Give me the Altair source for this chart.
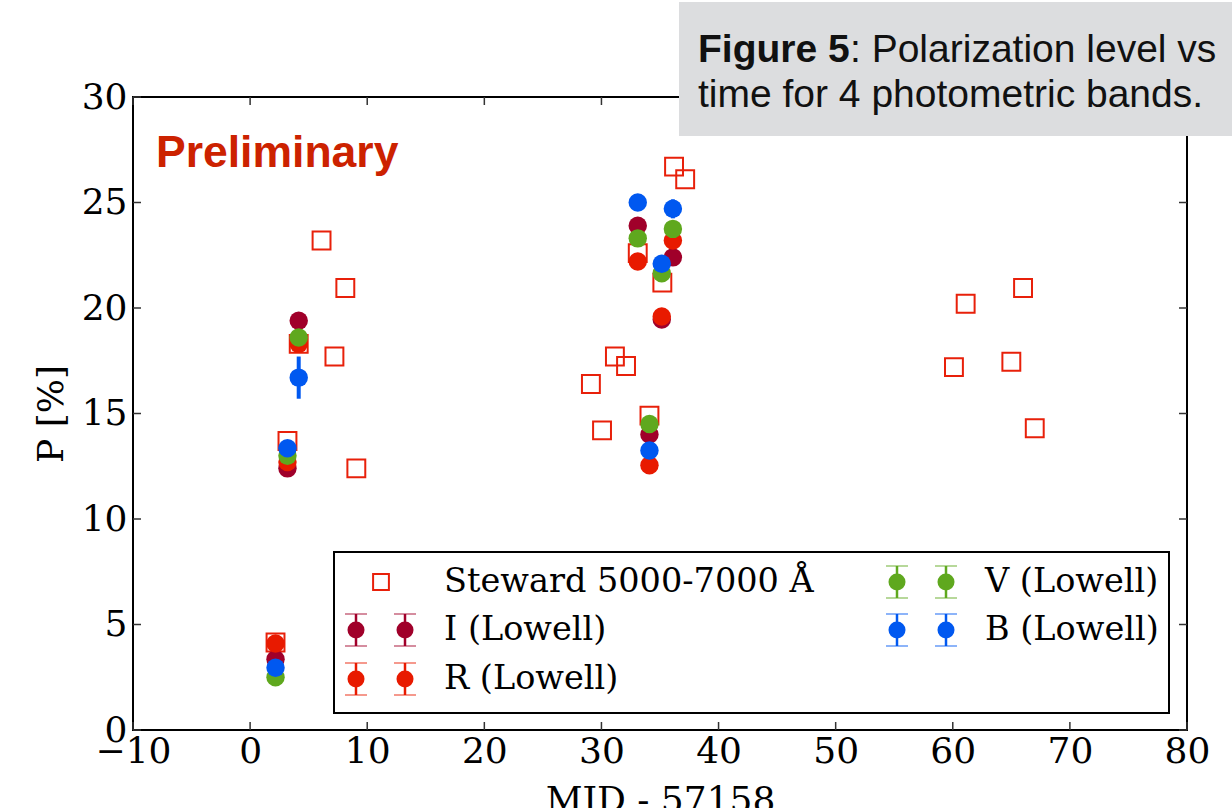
import altair as alt
import pandas as pd

# ---- Steward spectropolarimetry (5000-7000 Å) ----
steward_mjd = [2.17, 3.19, 4.15, 6.1, 7.2, 8.13, 9.07,
               29.1, 30.05, 31.15, 32.1, 33.1, 34.1, 35.2, 36.2, 37.15,
               60.1, 61.1, 65.0, 66.0, 67.0]
steward_p = [4.15, 13.7, 18.3, 23.2, 17.7, 20.95, 12.4,
             16.4, 14.2, 17.7, 17.25, 22.6, 14.9, 21.2, 26.7, 26.1,
             17.2, 20.2, 17.45, 20.95, 14.3]

# ---- Lowell broadband polarimetry ----
lowell_mjd = [2.17, 3.19, 4.15, 33.1, 34.1, 35.15, 36.1]
p_I = [3.35, 12.4, 19.4, 23.9, 14.0, 19.45, 22.4]
p_R = [4.1, 12.7, 18.3, 22.2, 12.55, 19.6, 23.2]
p_V = [2.5, 13.0, 18.6, 23.3, 14.5, 21.65, 23.75]
p_B = [2.95, 13.35, 16.7, 25.0, 13.25, 22.1, 24.7]
err_I = [0.2, 0.2, 0.2, 0.2, 0.2, 0.2, 0.2]
err_R = [0.2, 0.2, 0.2, 0.2, 0.2, 0.2, 0.2]
err_V = [0.2, 0.2, 0.2, 0.2, 0.2, 0.2, 0.2]
err_B = [0.2, 0.2, 1.0, 0.2, 0.2, 0.2, 0.45]

bands = ["I", "R", "V", "B"]
band_colors = ["#A0002A", "#E81A00", "#5FA81E", "#0058F0"]
steward_color = "#E8200A"

x_ticks = [-10, 0, 10, 20, 30, 40, 50, 60, 70, 80]
y_ticks = [0, 5, 10, 15, 20, 25, 30]

W, H = 1054, 633
SERIF = "DejaVu Serif"
SANS = "Liberation Sans"

steward_df = pd.DataFrame({"mjd": steward_mjd, "p": steward_p})

rows = []
for band, vals, errs in zip(bands, [p_I, p_R, p_V, p_B], [err_I, err_R, err_V, err_B]):
    for m, p, e in zip(lowell_mjd, vals, errs):
        rows.append({"band": band, "mjd": m, "p": p, "lo": p - e, "hi": p + e})
lowell_df = pd.DataFrame(rows)

x_scale = alt.Scale(domain=[-10, 80], nice=False, zero=False)
y_scale = alt.Scale(domain=[0, 30], nice=False, zero=False)
x_axis = alt.Axis(values=x_ticks, title="MJD - 57158", ticks=False, domain=False, grid=False,
                  labelFont=SERIF, labelFontSize=36, labelColor="black", labelPadding=4,
                  labelFlush=False, labelOverlap=False,
                  titleFont=SERIF, titleFontSize=36, titleFontWeight="normal", titleColor="black",
                  titleBaseline="alphabetic", titleX=W / 2, titleY=81)
y_axis = alt.Axis(values=y_ticks, title="P [%]", ticks=False, domain=False, grid=False,
                  labelFont=SERIF, labelFontSize=36, labelColor="black", labelPadding=6,
                  labelFlush=False, labelOverlap=False,
                  titleFont=SERIF, titleFontSize=36, titleFontWeight="normal", titleColor="black",
                  titleBaseline="alphabetic", titleAngle=270, titleX=-71, titleY=H / 2)
band_scale = alt.Scale(domain=bands, range=band_colors)

squares = alt.Chart(steward_df).mark_point(
    shape="square", filled=False, size=320, strokeWidth=2, color=steward_color, opacity=1
).encode(
    x=alt.X("mjd:Q", scale=x_scale, axis=x_axis),
    y=alt.Y("p:Q", scale=y_scale, axis=y_axis),
)

errbars = alt.Chart(lowell_df).mark_rule(strokeWidth=4).encode(
    x=alt.X("mjd:Q", scale=x_scale, axis=x_axis),
    y=alt.Y("lo:Q", scale=y_scale, axis=y_axis),
    y2="hi:Q",
    color=alt.Color("band:N", scale=band_scale, legend=None),
)

dots = alt.Chart(lowell_df).mark_circle(size=340, opacity=1).encode(
    x=alt.X("mjd:Q", scale=x_scale, axis=x_axis),
    y=alt.Y("p:Q", scale=y_scale, axis=y_axis),
    color=alt.Color("band:N", scale=band_scale, legend=None),
)

# inward-pointing ticks on all four sides
xt = pd.DataFrame({"t": x_ticks})
yt = pd.DataFrame({"t": y_ticks})
tick_style = dict(color="#333333", strokeWidth=1.5)
ticks_bottom = alt.Chart(xt).mark_rule(**tick_style).encode(
    x=alt.X("t:Q", scale=x_scale, axis=x_axis), y=alt.value(H), y2=alt.value(H - 8))
ticks_top = alt.Chart(xt).mark_rule(**tick_style).encode(
    x=alt.X("t:Q", scale=x_scale, axis=x_axis), y=alt.value(0), y2=alt.value(8))
ticks_left = alt.Chart(yt).mark_rule(**tick_style).encode(
    y=alt.Y("t:Q", scale=y_scale, axis=y_axis), x=alt.value(0), x2=alt.value(8))
ticks_right = alt.Chart(yt).mark_rule(**tick_style).encode(
    y=alt.Y("t:Q", scale=y_scale, axis=y_axis), x=alt.value(W), x2=alt.value(W - 8))

# ---- legend (two columns, two markers per Lowell entry) ----
one = alt.Data(values=[{}])
legend_box = alt.Chart(one).mark_rect(fill="white", stroke="black", strokeWidth=2).encode(
    x=alt.value(201), x2=alt.value(1036), y=alt.value(455), y2=alt.value(616))

col_marker_x = [[223, 272], [764, 813]]
col_text_x = [311, 852]
row_y = [485, 533, 582]
legend_labels = ["Steward 5000-7000 Å", "I (Lowell)", "R (Lowell)", "V (Lowell)", "B (Lowell)"]
legend_colors = [steward_color] + band_colors
legend_slots = [(0, 0), (0, 1), (0, 2), (1, 0), (1, 1)]

leg_text = pd.DataFrame({
    "label": legend_labels,
    "tx": [col_text_x[c] for c, r in legend_slots],
    "ty": [row_y[r] for c, r in legend_slots],
})
leg_marks = []
for lab, col, (c, r) in zip(legend_labels[1:], legend_colors[1:], legend_slots[1:]):
    for mx in col_marker_x[c]:
        y0 = row_y[r]
        leg_marks.append({"c": col, "mx": mx, "y": y0, "lo": y0 - 16, "hi": y0 + 16,
                          "cl": mx - 11, "cr": mx + 11})
leg_marks = pd.DataFrame(leg_marks)
leg_square = pd.DataFrame({"mx": [248], "y": [row_y[0]]})

px = lambda f: alt.X(f, scale=None)
py = lambda f: alt.Y(f, scale=None)
pc = alt.Color("c:N", scale=None)

leg_caps_lo = alt.Chart(leg_marks).mark_rule(strokeWidth=1.5, opacity=0.6).encode(
    x=px("cl:Q"), x2="cr:Q", y=py("lo:Q"), color=pc)
leg_caps_hi = alt.Chart(leg_marks).mark_rule(strokeWidth=1.5, opacity=0.6).encode(
    x=px("cl:Q"), x2="cr:Q", y=py("hi:Q"), color=pc)
leg_bars = alt.Chart(leg_marks).mark_rule(strokeWidth=2.5).encode(
    x=px("mx:Q"), y=py("lo:Q"), y2="hi:Q", color=pc)
leg_dots = alt.Chart(leg_marks).mark_circle(size=290, opacity=1).encode(
    x=px("mx:Q"), y=py("y:Q"), color=pc)
leg_sq = alt.Chart(leg_square).mark_point(
    shape="square", filled=False, size=250, strokeWidth=2, color=steward_color, opacity=1
).encode(x=px("mx:Q"), y=py("y:Q"))
leg_txt = alt.Chart(leg_text).mark_text(
    align="left", baseline="middle", font=SERIF, fontSize=33.5, color="black"
).encode(x=px("tx:Q"), y=py("ty:Q"), text="label:N")

# ---- annotations ----
prelim = alt.Chart(one).mark_text(
    text="Preliminary", align="left", baseline="alphabetic", font=SANS, fontWeight="bold",
    fontSize=44.5, color="#CC2200"
).encode(x=alt.value(23), y=alt.value(70))

caption_box = alt.Chart(one).mark_rect(fill="#DCDDDF").encode(
    x=alt.value(546), x2=alt.value(1130), y=alt.value(-95), y2=alt.value(39))
cap_style = dict(align="left", baseline="alphabetic", font=SANS, fontSize=39, color="#111111")
cap_bold = alt.Chart(one).mark_text(text="Figure 5", fontWeight="bold", **cap_style).encode(
    x=alt.value(565), y=alt.value(-35))
cap_rest = alt.Chart(one).mark_text(text=": Polarization level vs", **cap_style).encode(
    x=alt.value(717), y=alt.value(-35))
cap_line2 = alt.Chart(one).mark_text(text="time for 4 photometric bands.", **cap_style).encode(
    x=alt.value(565), y=alt.value(10))

chart = alt.layer(
    squares, errbars, dots,
    ticks_bottom, ticks_top, ticks_left, ticks_right,
    legend_box, leg_caps_lo, leg_caps_hi, leg_bars, leg_dots, leg_sq, leg_txt,
    prelim, caption_box, cap_bold, cap_rest, cap_line2,
).properties(
    width=W, height=H,
    autosize=alt.AutoSizeParams(type="none"),
    padding={"left": 133, "top": 97, "right": 45, "bottom": 78},
    background="white",
).configure_view(stroke="black", strokeWidth=2)

chart.save("out.html", embed_options={"renderer": "svg", "actions": False})
